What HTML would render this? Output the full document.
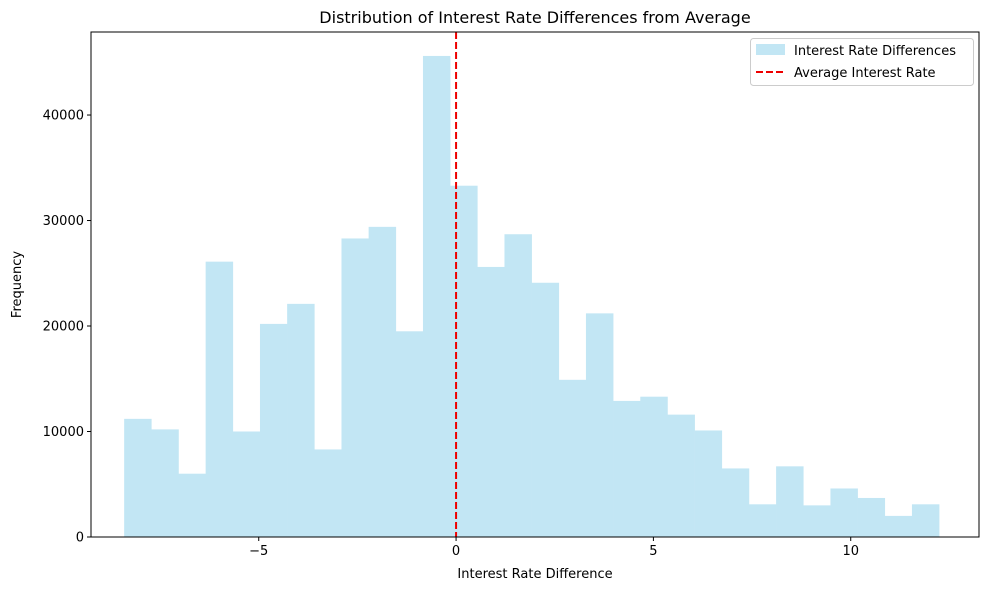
<!DOCTYPE html>
<html><head><meta charset="utf-8"><style>
body{margin:0;background:#fff;font-family:"Liberation Sans","DejaVu Sans",sans-serif;}
svg text{font-family:"DejaVu Sans","Liberation Sans",sans-serif;}
</style></head><body>
<svg id="chart" width="989" height="590" xmlns="http://www.w3.org/2000/svg">
<rect width="989" height="590" fill="#fff"/>
<g id="bars"></g>
<g id="axes"></g>
</svg>
<script>
const binStart = -8.41;
const binWidth = 0.6883;
const counts = [11200,10200,6000,26100,10000,20200,22100,8300,28300,29400,19500,45600,33300,25600,28700,24100,14900,21200,12900,13300,11600,10100,6500,3100,6700,3000,4600,3700,2000,3100];
const xTicks = [-5,0,5,10];
const yTicks = [0,10000,20000,30000,40000];
const avgLine = 0;
const L=91,R=979,T=32,B=537;
const xMin=-9.25,xMax=13.25,yMax=47870;
const X=v=>L+(v-xMin)/(xMax-xMin)*(R-L);
const Y=v=>B-v/yMax*(B-T);
const NS="http://www.w3.org/2000/svg";
const svg=document.getElementById('chart');
function mk(tag,attrs,parent){const e=document.createElementNS(NS,tag);for(const k in attrs)e.setAttribute(k,attrs[k]);(parent||svg).appendChild(e);return e;}
const bars=document.getElementById('bars');
counts.forEach((c,i)=>{
  const x0=X(binStart+i*binWidth),x1=X(binStart+(i+1)*binWidth);
  const r=mk('rect',{x:x0,y:Y(c),width:x1-x0+0.3,height:B-Y(c),fill:'#c2e6f4'},bars);
  
  
});
const ax=document.getElementById('axes');
const al=mk('line',{x1:X(avgLine),x2:X(avgLine),y1:T,y2:B,stroke:'#e00',"stroke-width":2,"stroke-dasharray":"7,3"},ax);


const fr=mk('rect',{x:L,y:T,width:R-L,height:B-T,fill:'none',stroke:'#000',"stroke-width":1},ax);


xTicks.forEach(t=>{
  mk('line',{x1:X(t),x2:X(t),y1:B,y2:B+4,stroke:'#000'},ax);
  const tx=mk('text',{x:X(t),y:B+18,"text-anchor":"middle","font-size":13},ax);
  tx.textContent=t<0?'\u2212'+(-t):t;
  
  
});
yTicks.forEach(t=>{
  mk('line',{x1:L-4,x2:L,y1:Y(t),y2:Y(t),stroke:'#000'},ax);
  const tx=mk('text',{x:L-7,y:Y(t)+4.5,"text-anchor":"end","font-size":13},ax);
  tx.textContent=t;
  
  
});
let t=mk('text',{x:(L+R)/2,y:578,"text-anchor":"middle","font-size":13},ax);t.textContent='Interest Rate Difference';


t=mk('text',{x:21,y:(T+B)/2,"text-anchor":"middle","font-size":13,transform:`rotate(-90 21 ${(T+B)/2})`},ax);t.textContent='Frequency';


t=mk('text',{x:(L+R)/2,y:23,"text-anchor":"middle","font-size":16},ax);t.textContent='Distribution of Interest Rate Differences from Average';


const lg=mk('g',{},ax);


mk('rect',{x:750.5,y:38.5,width:223,height:47,rx:3,fill:'#fff',stroke:'#ccc'},lg);
mk('rect',{x:756,y:44,width:29,height:11,fill:'#c2e6f4'},lg);
t=mk('text',{x:794,y:55,"font-size":13},lg);t.textContent='Interest Rate Differences';


mk('line',{x1:756,x2:785,y1:72,y2:72,stroke:'#e00',"stroke-width":2,"stroke-dasharray":"7,3"},lg);
t=mk('text',{x:794,y:77,"font-size":13},lg);t.textContent='Average Interest Rate';


</script>
</body></html>
